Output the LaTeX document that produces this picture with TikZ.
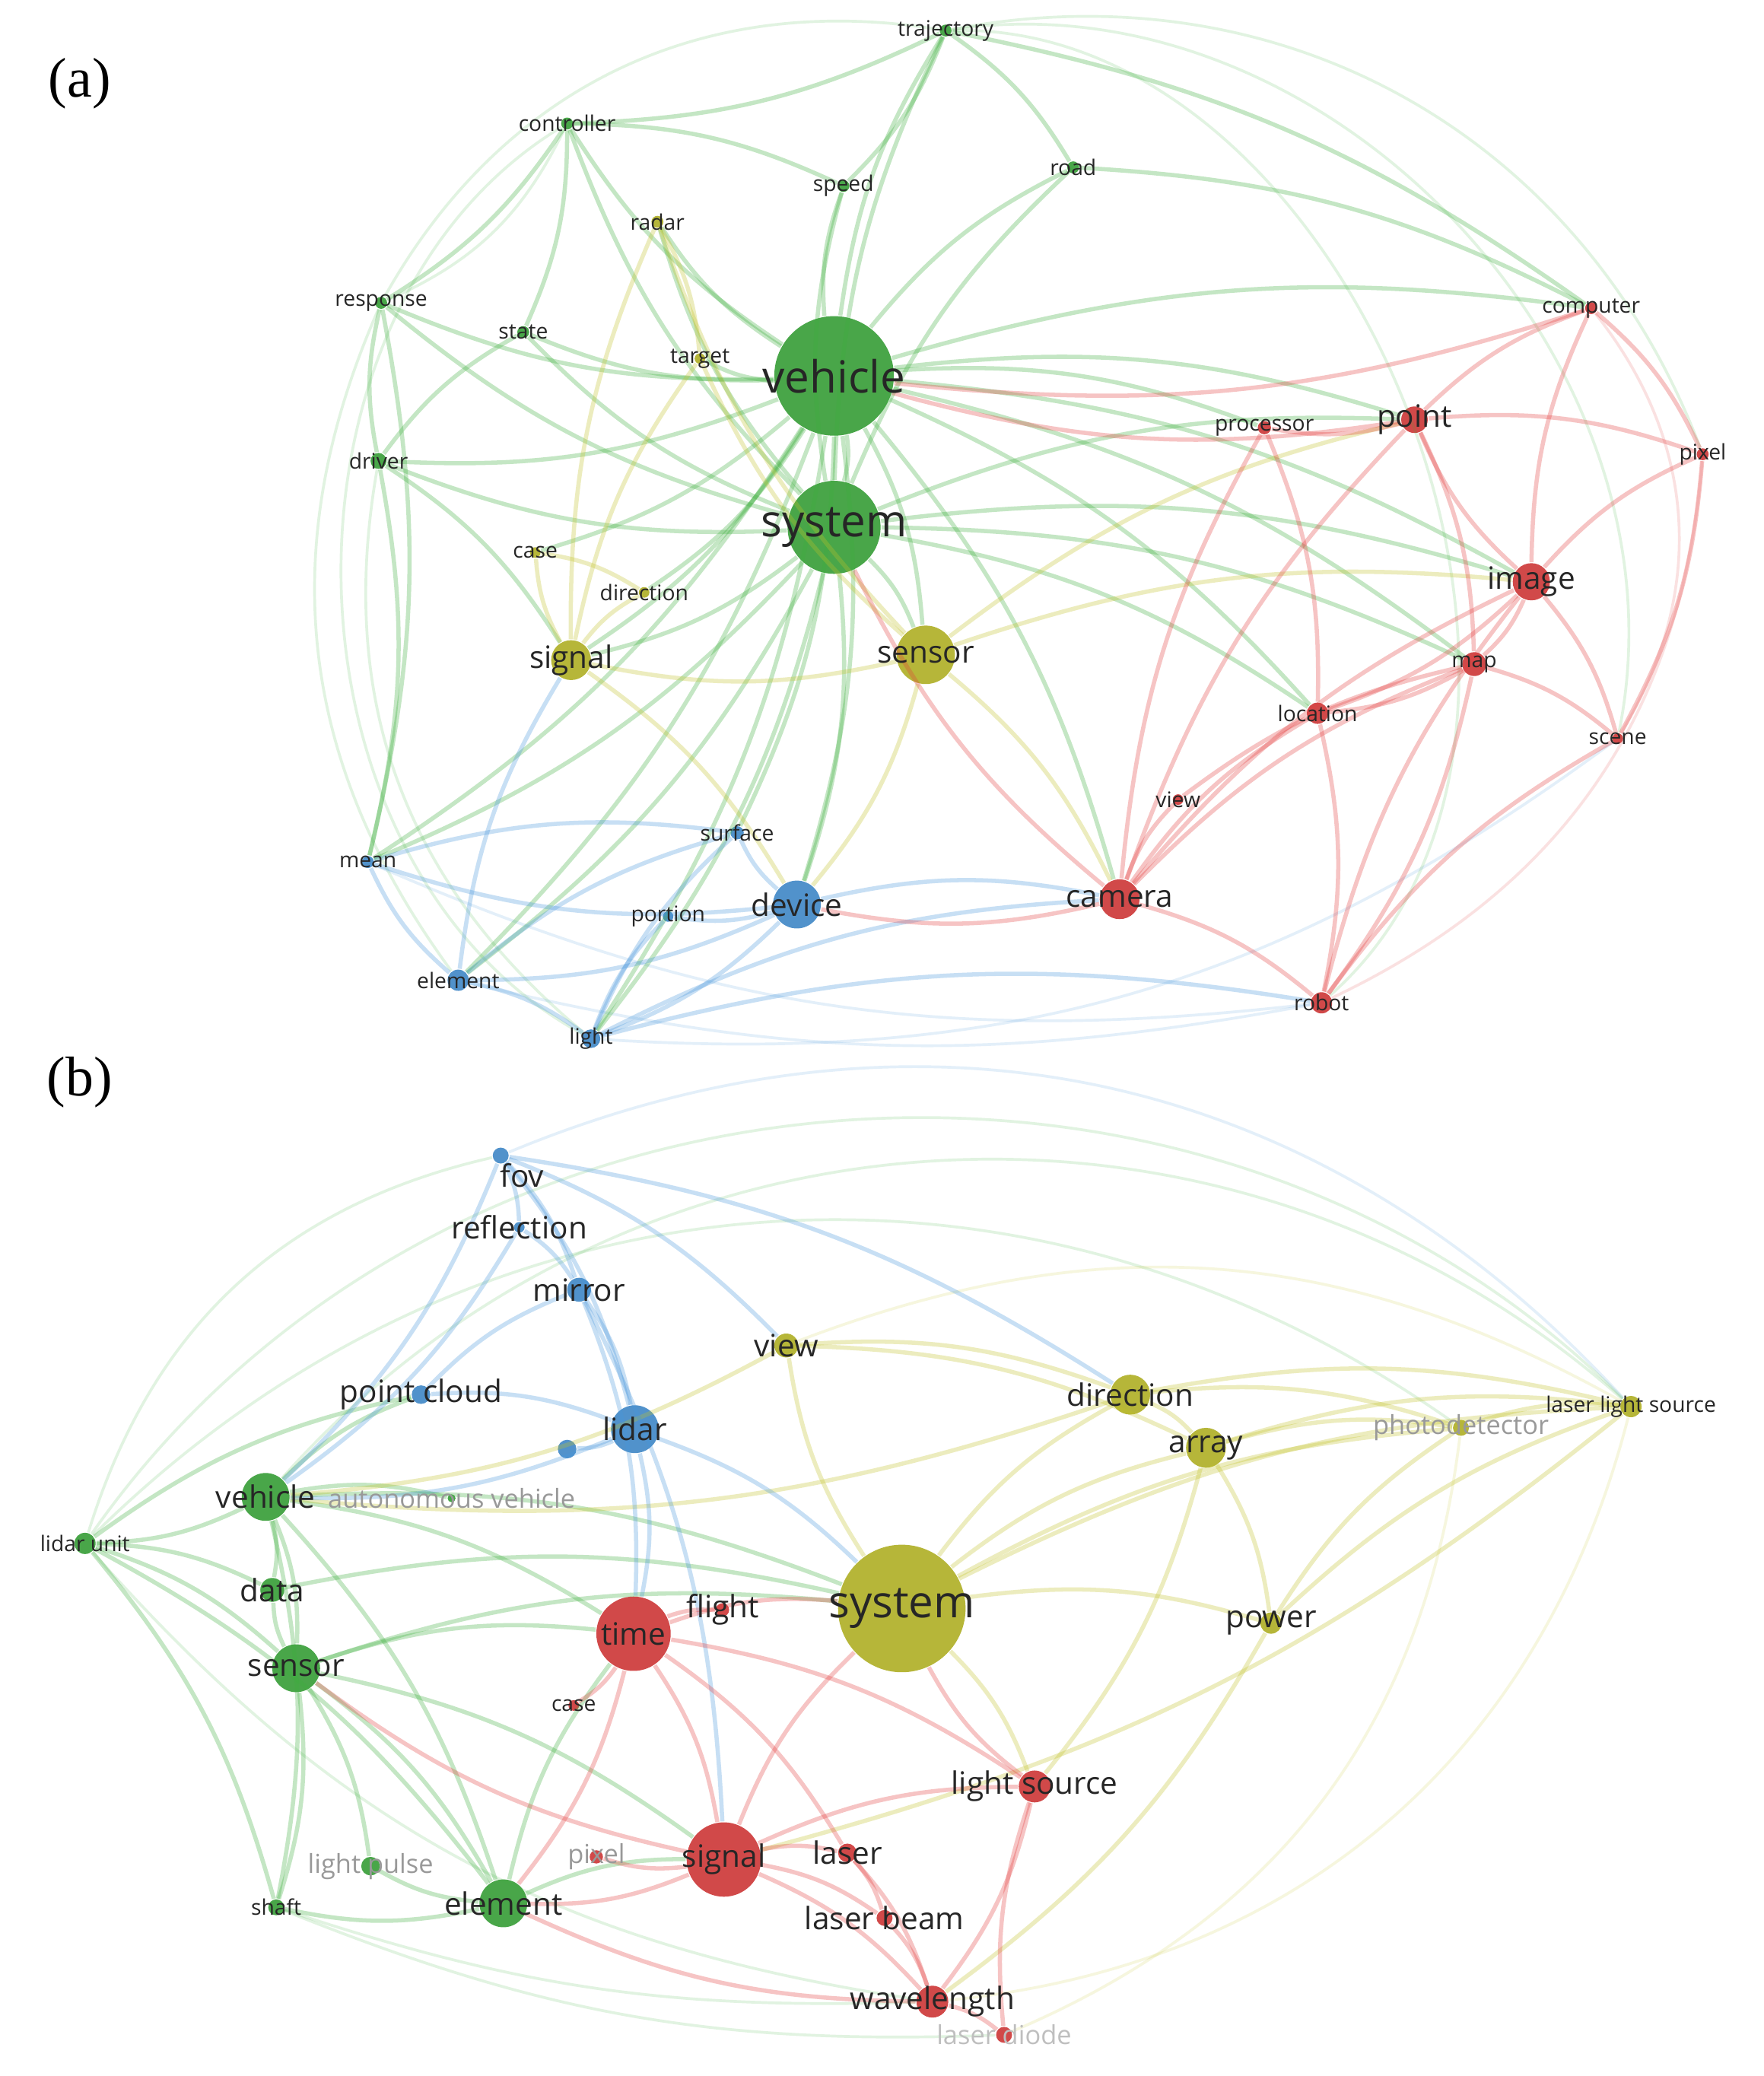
\documentclass[tikz,border=0pt]{standalone}
\usepackage{fontspec}
\setmainfont{Liberation Serif}
\newfontfamily\lab{Open Sans}
\begin{document}
\begin{tikzpicture}[x=0.01cm,y=-0.01cm,
  dot/.style={circle,inner sep=0pt,minimum size=#1},
  edge/.style={line width=0.9pt,opacity=0.3},
  faint/.style={line width=0.6pt,opacity=0.15},
  ts/.style={font=\lab\fontsize{4.6}{5}\selectfont,text=black!85,inner sep=0pt},
  tm/.style={font=\lab\fontsize{6.6}{7}\selectfont,text=black!85,inner sep=0pt},
  tl/.style={font=\lab\fontsize{9.5}{10}\selectfont,text=black!85,inner sep=0pt},
  tg/.style={font=\lab\fontsize{5.6}{6}\selectfont,text=black!40,inner sep=0pt}]
\definecolor{G}{RGB}{60,175,60}
\definecolor{R}{RGB}{228,60,60}
\definecolor{Y}{RGB}{195,195,40}
\definecolor{B}{RGB}{70,150,220}
\useasboundingbox[fill=white] (0,0) rectangle (1328,1563);
% ---------- nodes
\foreach \n/\x/\y/\s/\c in {
 aveh/628/283/90/G, asys/628/397/70/G, asen/697/493/44/Y, asig/430/497/30/Y,
 adev/600/681/36/B, acam/843/677/30/R, aimg/1153/438/28/R, apnt/1065/316/20/R,
 amap/1110/500/18/R, aloc/992/537/16/R, apro/952/322/10/R, acom/1198/232/9/R,
 apix/1282/342/9/R, asce/1218/556/8/R, avie/887/602/8/R, arob/995/755/16/R,
 asur/555/627/10/B, apor/503/690/8/B, aele/345/738/16/B, alig/445/782/14/B,
 amea/277/649/9/B, adir/485/446/8/Y, acas/403/416/8/Y, atar/527/270/8/Y,
 arad/495/167/9/Y, asta/394/250/9/G, ares/287/228/9/G, adri/285/347/12/G,
 acon/427/93/9/G, aspe/635/140/9/G, aroa/808/126/9/G, atra/712/23/9/G,
 bfov/377/870/12/B, bref/391/924/8/B, bmir/436/971/18/B, bpc/317/1050/14/B,
 blid/478/1076/36/B, bdot/427/1091/14/B, bveh/200/1127/36/G, baut/340/1128/6/G,
 blu/64/1162/16/G, bdat/205/1197/18/G, bsen/223/1256/36/G, blp/279/1405/14/G,
 bsha/208/1436/12/G, bele/379/1433/36/G, btim/477/1230/56/R, bfli/544/1212/10/R,
 bcas/432/1284/8/R, bsig/545/1400/56/R, bpix/449/1398/10/R, blas/638/1395/14/R,
 blb/666/1444/12/R, bls/779/1345/24/R, bwav/702/1507/24/R, bld/756/1532/12/R,
 bsys/679/1211/96/Y, bvie/592/1013/18/Y, bdir/851/1050/30/Y, barr/908/1090/30/Y,
 bpd/1100/1075/12/Y, blls/1228/1059/16/Y, bpow/957/1222/16/Y}
 \node[dot=\s*0.01cm,fill=\c!90!black,opacity=0.9] (\n) at (\x,\y) {};
% ---------- faint outer edges
\foreach \a/\b/\c/\bb in {atra/apix/G/40,atra/asce/G/55,acon/ares/G/20,atra/ares/G/-35,ares/aele/G/-30,adri/alig/G/-30,amea/arob/B/-15,aele/arob/B/-12,alig/asce/B/-20,acom/asce/R/35,atra/arob/G/70,acon/alig/G/-60,apix/arob/R/30,
 blu/bpd/G/40,blu/blls/G/50,bfov/blls/B/35,bvie/blls/Y/25,blls/bwav/Y/35,bpd/bld/Y/30,blu/bwav/G/-20,bsha/bwav/G/-10,blu/bfov/G/30,bsha/bld/G/-12,bveh/blls/G/45}
 \draw[faint,\c] (\a) to[bend left=\bb] (\b);
% ---------- edges
\foreach \a/\b in {aveh/atra,aveh/acon,aveh/aspe,aveh/aroa,aveh/ares,aveh/asta,aveh/adri,aveh/arad,aveh/atar,aveh/asys,aveh/asen,aveh/asig,aveh/adev,aveh/acam,aveh/apnt,aveh/aimg,aveh/apro,aveh/acom,aveh/aloc,aveh/amap,aveh/acas,aveh/adir,aveh/aele,aveh/alig,aveh/amea,aveh/asur,
 asys/atra,asys/acon,asys/aspe,asys/aroa,asys/ares,asys/asta,asys/adri,asys/arad,asys/asig,asys/asen,asys/adev,asys/aimg,asys/apnt,asys/aele,asys/alig,asys/amea,asys/amap,asys/aloc,
 adri/ares,adri/asta,acon/aspe,acon/asta,acon/ares,atra/aroa,atra/aspe,atra/acon,adri/asig,adri/amea,ares/amea,atra/acom,aroa/acom,
 bveh/blu,bveh/bdat,bveh/bsen,bveh/bele,bveh/bsha,blu/bsen,blu/bdat,blu/bsha,blu/bele,bsen/bdat,bsen/bele,bsen/blp,bsen/bsha,bele/bsha,bele/blp,bele/bsig,bsen/btim,bveh/btim,bveh/bsys,bsen/bsys,bveh/bpc,blu/bpc,bdat/bsys,bele/btim,bveh/baut,bsen/bsig}
 \draw[edge,G] (\a) to[bend left=12] (\b);
\foreach \a/\b in {asen/asig,asen/arad,asen/atar,asig/arad,asig/acas,asig/adir,asig/atar,asen/acam,asen/aimg,asen/adev,arad/atar,acas/adir,asen/apnt,asig/adev,
 bsys/bvie,bsys/bdir,bsys/barr,bsys/bpow,bsys/bpd,bsys/blls,bdir/barr,bdir/bpd,bdir/blls,barr/bpd,barr/blls,barr/bpow,bpd/blls,bpow/bpd,bvie/bdir,bvie/barr,bsys/bls,bpow/bwav,bpow/blls,bvie/bveh,barr/bls,bdir/bveh,blls/bsig}
 \draw[edge,Y] (\a) to[bend left=12] (\b);
\foreach \a/\b in {adev/asur,adev/apor,adev/aele,adev/alig,adev/amea,adev/acam,aele/alig,aele/amea,aele/asur,alig/asur,alig/apor,amea/asur,alig/acam,alig/arob,aele/asig,
 bfov/bref,bfov/bmir,bfov/blid,bref/bmir,bmir/blid,bpc/blid,bpc/bmir,blid/bdot,bfov/bveh,bfov/bdir,bref/bveh,bmir/btim,blid/btim,blid/bsys,blid/bveh,bfov/bvie,bmir/bsig}
 \draw[edge,B] (\a) to[bend left=12] (\b);
\foreach \a/\b in {acam/aimg,acam/apnt,acam/amap,acam/aloc,acam/arob,acam/avie,acam/apro,aimg/apnt,aimg/amap,aimg/acom,aimg/apix,aimg/asce,aimg/aloc,apnt/acom,apnt/apix,apnt/apro,apnt/amap,amap/aloc,amap/asce,amap/arob,aloc/arob,acom/apix,apix/asce,apro/aloc,avie/amap,acam/adev,arob/aimg,arob/asce,acam/asys,apnt/aveh,acom/aveh,
 btim/bfli,btim/bsig,btim/bcas,btim/bsys,bsig/blas,bsig/blb,bsig/bwav,bsig/bpix,bsig/bls,blas/bwav,blas/blb,bls/bwav,bwav/bld,blb/bwav,btim/blas,bsig/bsys,bls/bsys,btim/bele,bsig/bele,bsig/bsen,bwav/bele,bld/bls,btim/bls}
 \draw[edge,R] (\a) to[bend left=12] (\b);
% ---------- labels
\node[font=\fontsize{12}{14}\selectfont] (la) at (60,63) {(a)};
\node[font=\fontsize{12}{14}\selectfont] (lb) at (60,815) {(b)};
\foreach \n/\t/\st in {aveh/vehicle/tl, asys/system/tl, asen/sensor/tm, asig/signal/tm, adev/device/tm, acam/camera/tm, aimg/image/tm, apnt/point/tm, amap/map/ts, aloc/location/ts, apro/processor/ts, acom/computer/ts, apix/pixel/ts, asce/scene/ts, avie/view/ts, arob/robot/ts, asur/surface/ts, apor/portion/ts, aele/element/ts, alig/light/ts, amea/mean/ts, adir/direction/ts, acas/case/ts, atar/target/ts, arad/radar/ts, asta/state/ts, ares/response/ts, adri/driver/ts, acon/controller/ts, aspe/speed/ts, aroa/road/ts, atra/trajectory/ts,
 bref/reflection/tm, bmir/mirror/tm, bpc/point cloud/tm, blid/lidar/tm, bveh/vehicle/tm, blu/lidar unit/ts, bdat/data/tm, bsen/sensor/tm, bsha/shaft/ts, bele/element/tm, btim/time/tm, bfli/flight/tm, bcas/case/ts, bsig/signal/tm, bpix/pixel/tg, blas/laser/tm, blb/laser beam/tm, bls/light source/tm, bwav/wavelength/tm, bsys/system/tl, bvie/view/tm, bdir/direction/tm, barr/array/tm, blls/laser light source/ts, bpow/power/tm}
 \node[\st] (t\n) at (\n) {\t};
\node[tm] (tbfov) at (393,885) {fov};
\node[tg] (tbaut) at (340,1128) {autonomous vehicle};
\node[tg] (tblp) at (279,1405) {light pulse};
\node[tg] (tbpd) at (1100,1075) {photodetector};
\node[tg,text=black!25] (tbld) at (756,1532) {laser diode};
\end{tikzpicture}
\end{document}
